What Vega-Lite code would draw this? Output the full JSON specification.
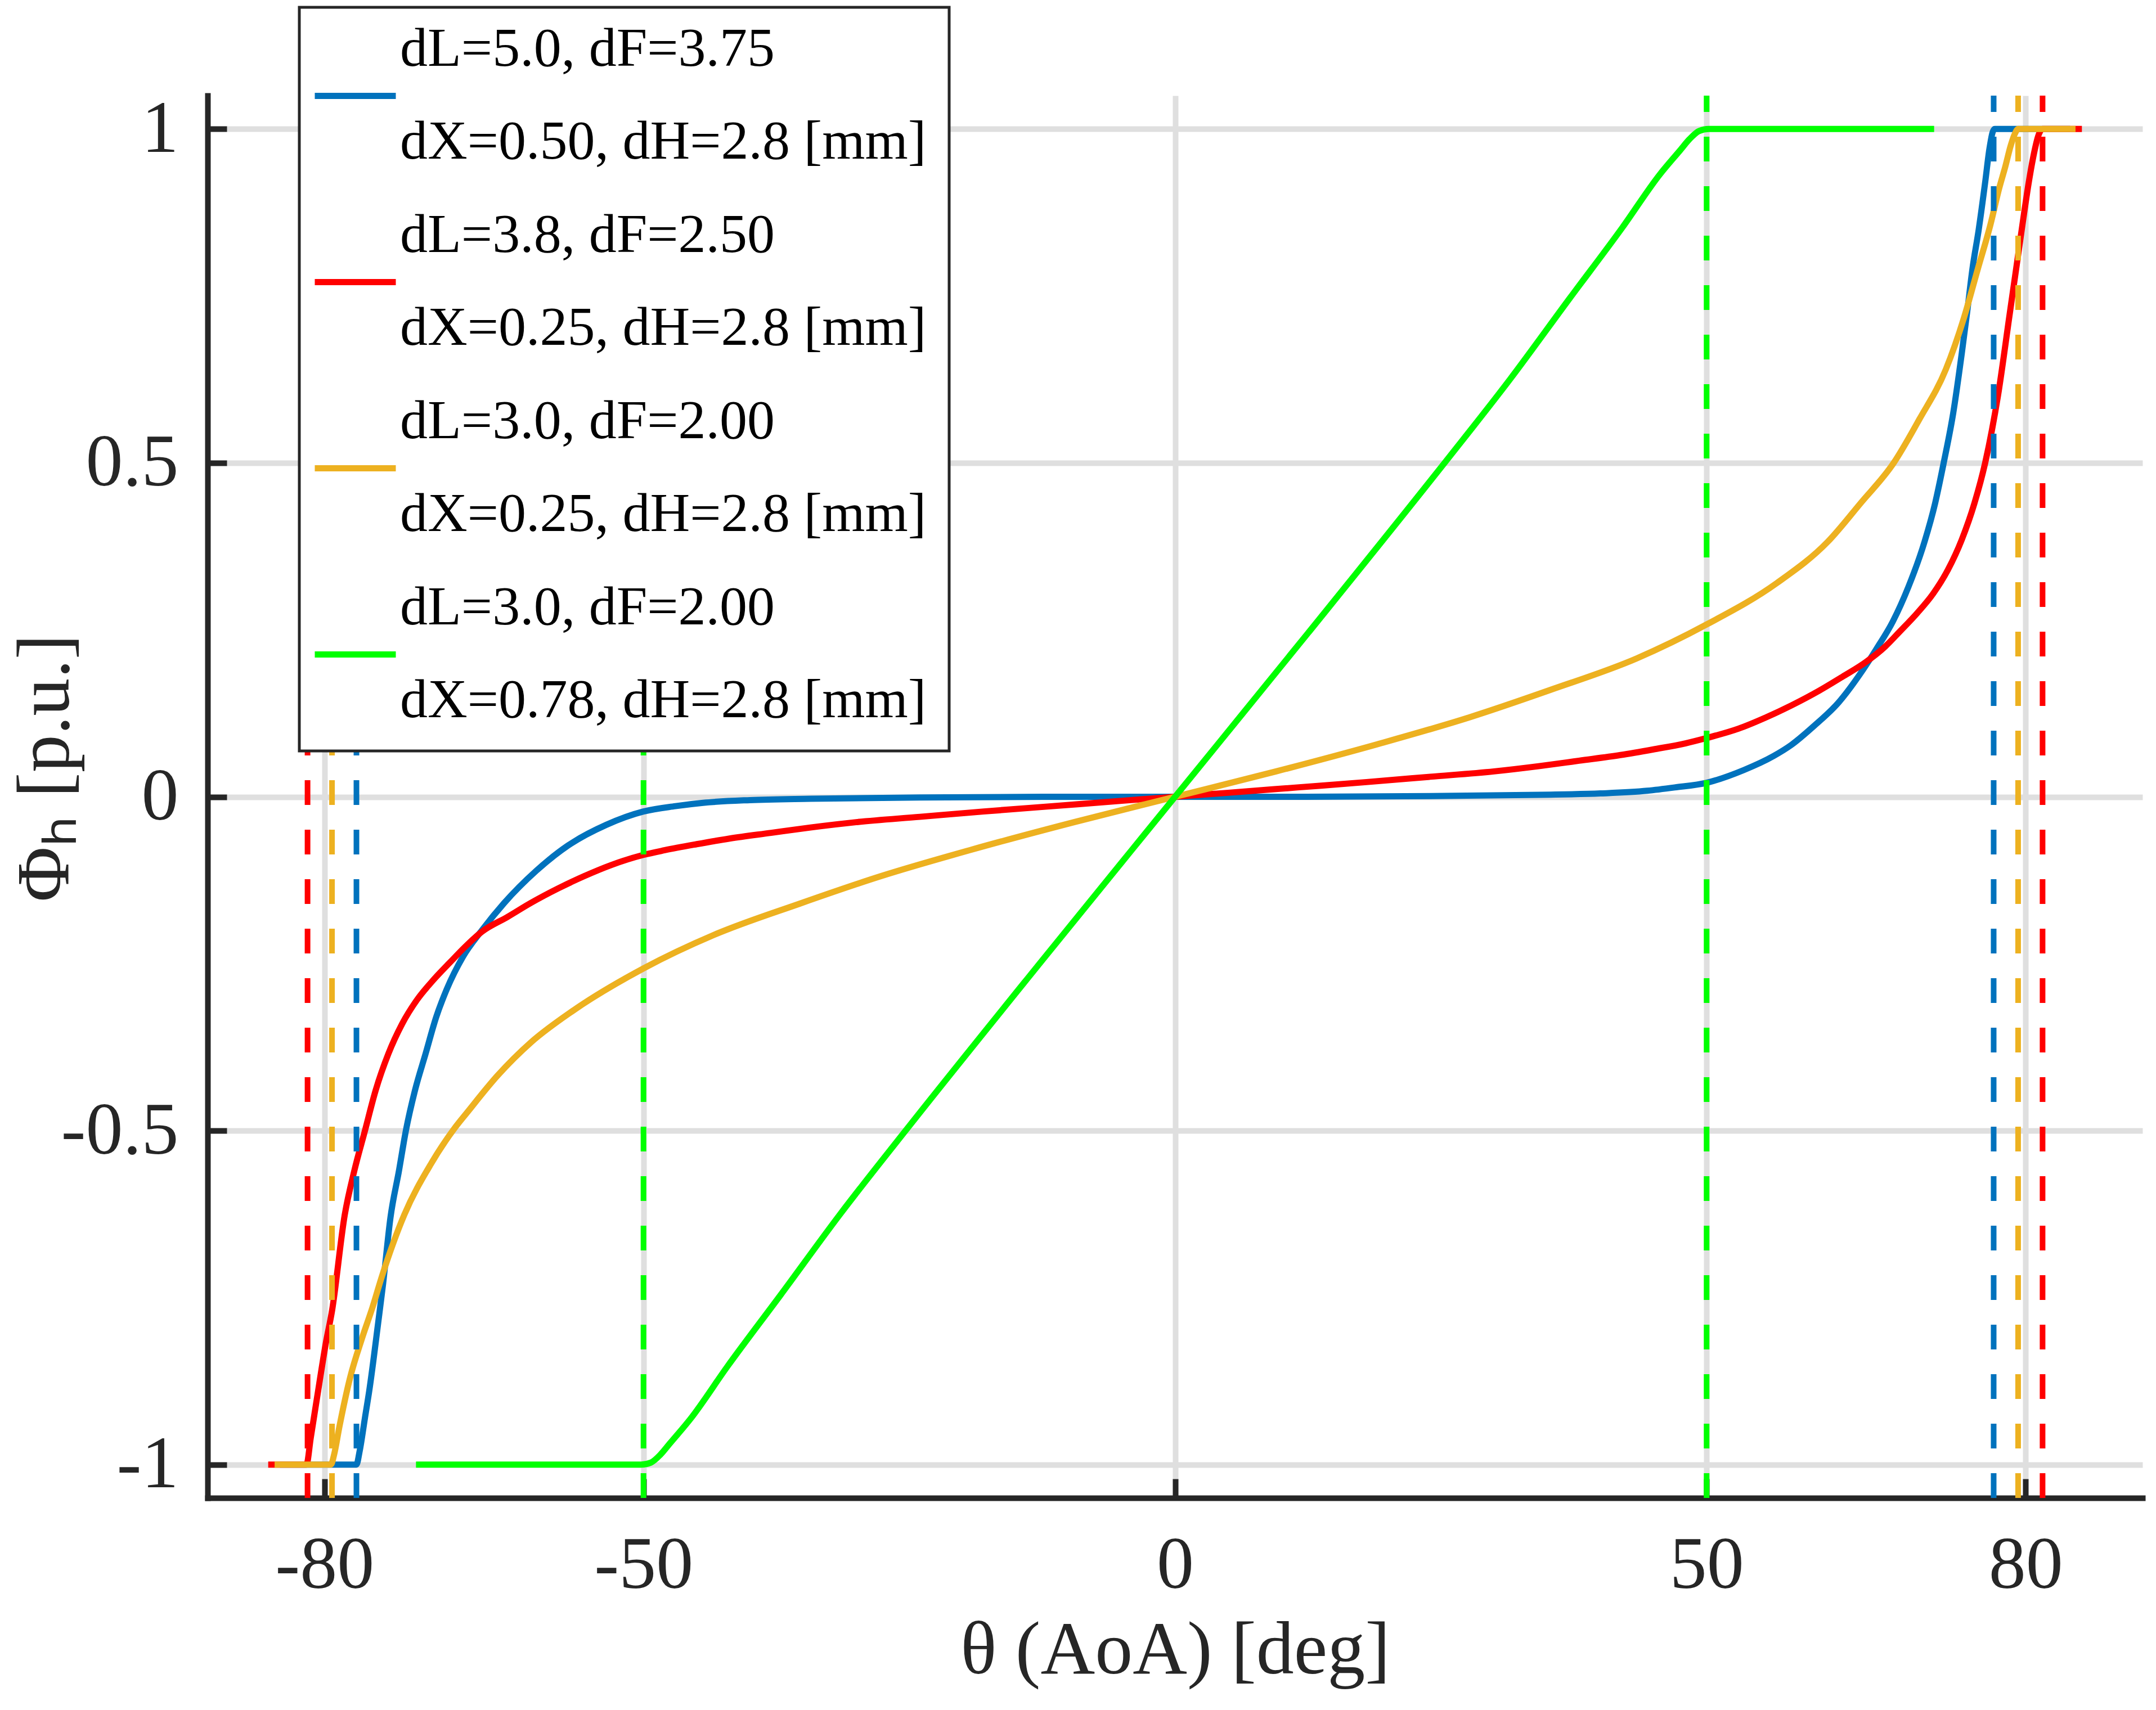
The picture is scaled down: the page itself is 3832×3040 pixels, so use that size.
{
  "$schema": "https://vega.github.io/schema/vega-lite/v6.json",
  "width": 3439,
  "height": 2493,
  "autosize": {"type": "none"},
  "padding": {"left": 369, "top": 170, "right": 24, "bottom": 377},
  "background": "white",
  "config": {
    "view": {"stroke": null},
    "font": "Liberation Serif",
    "axis": {
      "domainColor": "#262626",
      "domainWidth": 10,
      "domainCap": "square",
      "tickColor": "#262626",
      "tickWidth": 10,
      "tickSize": -34,
      "gridColor": "#dfdfdf",
      "gridWidth": 10,
      "labelFont": "Liberation Serif",
      "labelFontSize": 132,
      "labelColor": "#262626",
      "labelLimit": 0,
      "titleFont": "Liberation Serif",
      "titleFontSize": 134,
      "titleFontWeight": "normal",
      "titleColor": "#262626"
    },
    "legend": {
      "strokeWidth": 5
    },
    "style": {"guide-label": {"lineHeight": 165}}
  },
  "datasets": {
    "curves": [
      {"s": "a", "x": -84.2, "y": -1}, {"s": "a", "x": -77.0, "y": -1}, {"s": "a", "x": -76.7, "y": -0.98},
      {"s": "a", "x": -76.2, "y": -0.93}, {"s": "a", "x": -75.8, "y": -0.89}, {"s": "a", "x": -74.95, "y": -0.787},
      {"s": "a", "x": -74.5, "y": -0.73}, {"s": "a", "x": -73.8, "y": -0.63}, {"s": "a", "x": -73.0, "y": -0.56},
      {"s": "a", "x": -72.35, "y": -0.5}, {"s": "a", "x": -71.5, "y": -0.44}, {"s": "a", "x": -70.5, "y": -0.385},
      {"s": "a", "x": -69.5, "y": -0.33}, {"s": "a", "x": -68.5, "y": -0.288}, {"s": "a", "x": -67.0, "y": -0.24},
      {"s": "a", "x": -65.2, "y": -0.2}, {"s": "a", "x": -63.1, "y": -0.159}, {"s": "a", "x": -60.1, "y": -0.111},
      {"s": "a", "x": -57.1, "y": -0.073}, {"s": "a", "x": -53.5, "y": -0.042}, {"s": "a", "x": -50, "y": -0.022},
      {"s": "a", "x": -47, "y": -0.014}, {"s": "a", "x": -44.4, "y": -0.009}, {"s": "a", "x": -40, "y": -0.005},
      {"s": "a", "x": -34.3, "y": -0.003}, {"s": "a", "x": -24, "y": -0.001}, {"s": "a", "x": -10, "y": 0},
      {"s": "a", "x": 0, "y": 0}, {"s": "a", "x": 10, "y": 0}, {"s": "a", "x": 24, "y": 0.001},
      {"s": "a", "x": 34.3, "y": 0.003}, {"s": "a", "x": 40, "y": 0.005}, {"s": "a", "x": 44.4, "y": 0.009},
      {"s": "a", "x": 47, "y": 0.014}, {"s": "a", "x": 50, "y": 0.021}, {"s": "a", "x": 53.5, "y": 0.04},
      {"s": "a", "x": 56.3, "y": 0.061}, {"s": "a", "x": 58, "y": 0.078}, {"s": "a", "x": 60.1, "y": 0.106},
      {"s": "a", "x": 62.4, "y": 0.141}, {"s": "a", "x": 64.7, "y": 0.19}, {"s": "a", "x": 66, "y": 0.222},
      {"s": "a", "x": 67.5, "y": 0.262}, {"s": "a", "x": 69, "y": 0.315}, {"s": "a", "x": 70.5, "y": 0.382},
      {"s": "a", "x": 71.5, "y": 0.44}, {"s": "a", "x": 72.3, "y": 0.5}, {"s": "a", "x": 73.2, "y": 0.575},
      {"s": "a", "x": 74.0, "y": 0.664}, {"s": "a", "x": 74.5, "y": 0.725}, {"s": "a", "x": 75.0, "y": 0.79},
      {"s": "a", "x": 75.6, "y": 0.85}, {"s": "a", "x": 76.2, "y": 0.92}, {"s": "a", "x": 76.6, "y": 0.97},
      {"s": "a", "x": 76.9, "y": 0.995}, {"s": "a", "x": 77.1, "y": 1}, {"s": "a", "x": 84.2, "y": 1},

      {"s": "b", "x": -85.3, "y": -1}, {"s": "b", "x": -81.7, "y": -1}, {"s": "b", "x": -81.3, "y": -0.96},
      {"s": "b", "x": -80.5, "y": -0.879}, {"s": "b", "x": -79.9, "y": -0.82}, {"s": "b", "x": -79.3, "y": -0.77},
      {"s": "b", "x": -78.1, "y": -0.626}, {"s": "b", "x": -77.2, "y": -0.56}, {"s": "b", "x": -76.2, "y": -0.5},
      {"s": "b", "x": -75.2, "y": -0.44}, {"s": "b", "x": -74.0, "y": -0.385}, {"s": "b", "x": -72.7, "y": -0.34},
      {"s": "b", "x": -71.3, "y": -0.304}, {"s": "b", "x": -69.8, "y": -0.275}, {"s": "b", "x": -68.2, "y": -0.248},
      {"s": "b", "x": -66.8, "y": -0.225}, {"s": "b", "x": -65.2, "y": -0.202}, {"s": "b", "x": -62.8, "y": -0.18},
      {"s": "b", "x": -60.6, "y": -0.159}, {"s": "b", "x": -58, "y": -0.137}, {"s": "b", "x": -55.6, "y": -0.119},
      {"s": "b", "x": -53, "y": -0.102}, {"s": "b", "x": -50, "y": -0.087}, {"s": "b", "x": -48, "y": -0.08},
      {"s": "b", "x": -45, "y": -0.071}, {"s": "b", "x": -41.9, "y": -0.0625}, {"s": "b", "x": -38, "y": -0.054},
      {"s": "b", "x": -34.3, "y": -0.046}, {"s": "b", "x": -30, "y": -0.038}, {"s": "b", "x": -24, "y": -0.03},
      {"s": "b", "x": -18, "y": -0.022}, {"s": "b", "x": -11.5, "y": -0.014}, {"s": "b", "x": -5, "y": -0.006},
      {"s": "b", "x": 0, "y": 0}, {"s": "b", "x": 5, "y": 0.006}, {"s": "b", "x": 11.5, "y": 0.014},
      {"s": "b", "x": 18, "y": 0.022}, {"s": "b", "x": 24, "y": 0.03}, {"s": "b", "x": 30, "y": 0.038},
      {"s": "b", "x": 34.3, "y": 0.046}, {"s": "b", "x": 38, "y": 0.054}, {"s": "b", "x": 41.9, "y": 0.0625},
      {"s": "b", "x": 45, "y": 0.071}, {"s": "b", "x": 48, "y": 0.08}, {"s": "b", "x": 50, "y": 0.088},
      {"s": "b", "x": 53, "y": 0.102}, {"s": "b", "x": 55.6, "y": 0.119}, {"s": "b", "x": 58, "y": 0.137},
      {"s": "b", "x": 60.6, "y": 0.159}, {"s": "b", "x": 62.8, "y": 0.18}, {"s": "b", "x": 65, "y": 0.202},
      {"s": "b", "x": 66.8, "y": 0.225}, {"s": "b", "x": 68.2, "y": 0.248}, {"s": "b", "x": 69.8, "y": 0.275},
      {"s": "b", "x": 71.3, "y": 0.304}, {"s": "b", "x": 72.7, "y": 0.34}, {"s": "b", "x": 74.0, "y": 0.385},
      {"s": "b", "x": 75.2, "y": 0.44}, {"s": "b", "x": 76.2, "y": 0.5}, {"s": "b", "x": 77.4, "y": 0.6},
      {"s": "b", "x": 78.5, "y": 0.722}, {"s": "b", "x": 79.2, "y": 0.8}, {"s": "b", "x": 79.8, "y": 0.867},
      {"s": "b", "x": 80.3, "y": 0.92}, {"s": "b", "x": 80.8, "y": 0.964}, {"s": "b", "x": 81.2, "y": 0.99},
      {"s": "b", "x": 81.6, "y": 1}, {"s": "b", "x": 85.3, "y": 1},

      {"s": "c", "x": -84.7, "y": -1}, {"s": "c", "x": -79.4, "y": -1}, {"s": "c", "x": -79.1, "y": -0.985},
      {"s": "c", "x": -78.6, "y": -0.943}, {"s": "c", "x": -77.6, "y": -0.87}, {"s": "c", "x": -76.5, "y": -0.812},
      {"s": "c", "x": -75.5, "y": -0.765}, {"s": "c", "x": -74.6, "y": -0.718}, {"s": "c", "x": -72.5, "y": -0.626},
      {"s": "c", "x": -70.0, "y": -0.55}, {"s": "c", "x": -67.8, "y": -0.497}, {"s": "c", "x": -66.6, "y": -0.473},
      {"s": "c", "x": -63.7, "y": -0.417}, {"s": "c", "x": -60.6, "y": -0.368}, {"s": "c", "x": -56.6, "y": -0.32},
      {"s": "c", "x": -50, "y": -0.257}, {"s": "c", "x": -43.4, "y": -0.207}, {"s": "c", "x": -35.3, "y": -0.16},
      {"s": "c", "x": -27.7, "y": -0.119}, {"s": "c", "x": -19.1, "y": -0.079}, {"s": "c", "x": -9.5, "y": -0.038},
      {"s": "c", "x": 0, "y": 0}, {"s": "c", "x": 9.5, "y": 0.038}, {"s": "c", "x": 19.1, "y": 0.079},
      {"s": "c", "x": 27.7, "y": 0.119}, {"s": "c", "x": 35.3, "y": 0.16}, {"s": "c", "x": 43.4, "y": 0.207},
      {"s": "c", "x": 50, "y": 0.258}, {"s": "c", "x": 56.6, "y": 0.32}, {"s": "c", "x": 61.4, "y": 0.382},
      {"s": "c", "x": 64.5, "y": 0.44}, {"s": "c", "x": 67.6, "y": 0.5}, {"s": "c", "x": 70, "y": 0.565},
      {"s": "c", "x": 72.5, "y": 0.64}, {"s": "c", "x": 74.2, "y": 0.717}, {"s": "c", "x": 75.5, "y": 0.79},
      {"s": "c", "x": 76.7, "y": 0.857}, {"s": "c", "x": 77.5, "y": 0.91}, {"s": "c", "x": 78.1, "y": 0.944},
      {"s": "c", "x": 78.6, "y": 0.975}, {"s": "c", "x": 79.0, "y": 0.993}, {"s": "c", "x": 79.3, "y": 1},
      {"s": "c", "x": 84.7, "y": 1},

      {"s": "d", "x": -71.4, "y": -1}, {"s": "d", "x": -50.2, "y": -1}, {"s": "d", "x": -49.3, "y": -0.997},
      {"s": "d", "x": -48.4, "y": -0.985}, {"s": "d", "x": -47.5, "y": -0.968}, {"s": "d", "x": -45.6, "y": -0.932},
      {"s": "d", "x": -42.1, "y": -0.853}, {"s": "d", "x": -37.1, "y": -0.746}, {"s": "d", "x": -31.5, "y": -0.625},
      {"s": "d", "x": -25.5, "y": -0.503}, {"s": "d", "x": -12.5, "y": -0.245}, {"s": "d", "x": 0, "y": 0},
      {"s": "d", "x": 12.5, "y": 0.245}, {"s": "d", "x": 25.5, "y": 0.503}, {"s": "d", "x": 31.5, "y": 0.625},
      {"s": "d", "x": 37.1, "y": 0.746}, {"s": "d", "x": 42.1, "y": 0.853}, {"s": "d", "x": 45.6, "y": 0.932},
      {"s": "d", "x": 47.5, "y": 0.968}, {"s": "d", "x": 48.4, "y": 0.985}, {"s": "d", "x": 49.3, "y": 0.997},
      {"s": "d", "x": 50.2, "y": 1}, {"s": "d", "x": 71.4, "y": 1}
    ],
    "limits": [
      {"s": "a", "x": -77.0}, {"s": "a", "x": 77.0},
      {"s": "b", "x": -81.6}, {"s": "b", "x": 81.6},
      {"s": "c", "x": -79.3}, {"s": "c", "x": 79.3},
      {"s": "d", "x": -50}, {"s": "d", "x": 50}
    ]
  },
  "layer": [
    {
      "data": {"name": "curves"},
      "mark": {"type": "line", "strokeWidth": 11, "interpolate": "monotone"},
      "encoding": {
        "x": {
          "field": "x",
          "type": "quantitative",
          "scale": {"domain": [-91, 91], "nice": false, "zero": false},
          "axis": {
            "values": [-80, -50, 0, 50, 80],
            "labelExpr": "toString(datum.value)",
            "labelPadding": 89,
            "title": "θ (AoA) [deg]",
            "titlePadding": 20
          }
        },
        "y": {
          "field": "y",
          "type": "quantitative",
          "scale": {"domain": [-1.05, 1.05], "nice": false, "zero": false},
          "axis": {
            "values": [-1, -0.5, 0, 0.5, 1],
            "labelExpr": "toString(datum.value)",
            "labelPadding": 86,
            "title": "Φₕ [p.u.]",
            "titleX": -220,
            "titleY": 1195
          }
        },
        "color": {
          "field": "s",
          "type": "nominal",
          "scale": {"domain": ["a", "b", "c", "d"], "range": ["#0072BD", "#FF0000", "#EDB120", "#00FF00"]},
          "legend": {
            "orient": "none",
            "legendX": 163,
            "legendY": -157,
            "title": " ",
            "titleFontSize": 1,
            "titlePadding": 39,
            "labelExpr": "datum.value == 'a' ? ['dL=5.0, dF=3.75', 'dX=0.50, dH=2.8 [mm]'] : datum.value == 'b' ? ['dL=3.8, dF=2.50', 'dX=0.25, dH=2.8 [mm]'] : datum.value == 'c' ? ['dL=3.0, dF=2.00', 'dX=0.25, dH=2.8 [mm]'] : ['dL=3.0, dF=2.00', 'dX=0.78, dH=2.8 [mm]']",
            "labelFont": "Liberation Serif",
            "labelFontSize": 98,
            "labelColor": "#000000",
            "labelBaseline": "line-bottom",
            "labelLimit": 2000,
            "labelOffset": 2,
            "symbolType": "stroke",
            "symbolSize": 20736,
            "symbolStrokeWidth": 11,
            "symbolOffset": -18,
            "rowPadding": 67,
            "padding": 40,
            "fillColor": "white",
            "strokeColor": "#262626"
          }
        }
      }
    },
    {
      "data": {"name": "limits"},
      "mark": {"type": "rule", "strokeWidth": 10, "strokeDash": [44, 44]},
      "encoding": {
        "x": {"field": "x", "type": "quantitative"},
        "y": {"datum": -1.05},
        "y2": {"datum": 1.05},
        "color": {"field": "s", "type": "nominal", "legend": null}
      }
    }
  ]
}
